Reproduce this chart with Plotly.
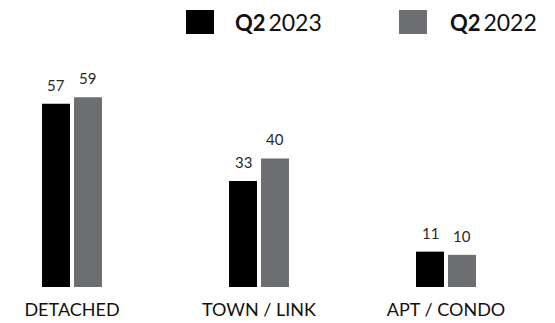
import plotly.graph_objects as go

categories = ["DETACHED", "TOWN / LINK", "APT / CONDO"]
q2_2023 = [57, 33, 11]
q2_2022 = [59, 40, 10]
series_names = ["Q2 2023", "Q2 2022"]
colors = ["#000000", "#6d6e71"]

FONT = "Lato, 'Open Sans', sans-serif"
BARGAP = 0.658
BARGROUPGAP = 0.125

fig = go.Figure()
for name, vals, col in zip(series_names, [q2_2023, q2_2022], colors):
    fig.add_trace(go.Bar(
        x=list(range(len(categories))), y=vals, name=name,
        marker=dict(color=col, line=dict(width=0)),
        hoverinfo="y",
    ))

# Value labels above each bar, placed at the bar centres
slot = (1 - BARGAP) / 2
for i, (name, vals) in enumerate(zip(series_names, [q2_2023, q2_2022])):
    off = (i - 0.5) * slot
    for xi, v in enumerate(vals):
        fig.add_annotation(x=xi + off, y=v, text=str(v), showarrow=False,
                           xanchor="center", yanchor="bottom", yshift=8,
                           font=dict(family=FONT, size=15, color="#2a2a2a"))

fig.update_layout(
    width=555, height=323,
    margin=dict(l=0, r=0, t=62, b=36),
    paper_bgcolor="white", plot_bgcolor="white",
    barmode="group", bargap=BARGAP, bargroupgap=BARGROUPGAP,
    showlegend=False,
    font=dict(family=FONT, color="#111111"),
    xaxis=dict(
        range=[-72 / 187, (555 - 72) / 187],
        tickmode="array", tickvals=list(range(len(categories))), ticktext=categories,
        tickfont=dict(family=FONT, size=18, color="#111111"),
        showgrid=False, zeroline=False, showline=False, ticks="",
        ticklabelstandoff=10,
    ),
    yaxis=dict(range=[0, 70], visible=False),
)

# Legend: colour swatches with labels along the top
legend_items = [(186, 214, 233), (399, 427, 448)]
for (x0, x1, tx), name, col in zip(legend_items, series_names, colors):
    fig.add_shape(type="rect", xref="paper", yref="paper",
                  x0=x0 / 555, x1=x1 / 555,
                  y0=(287 - 34) / 225, y1=(287 - 10) / 225,
                  line=dict(width=0), fillcolor=col, layer="above")
    q, yr = name.split(" ")
    fig.add_annotation(xref="paper", yref="paper", x=tx / 555, y=(287 - 22) / 225,
                       xanchor="left", yanchor="middle", showarrow=False,
                       text=f"<b><span style='font-size:22px'>{q}</span></b>&#8201;{yr}",
                       font=dict(family=FONT, size=23, color="#111111"))

fig.write_html("out.html")
